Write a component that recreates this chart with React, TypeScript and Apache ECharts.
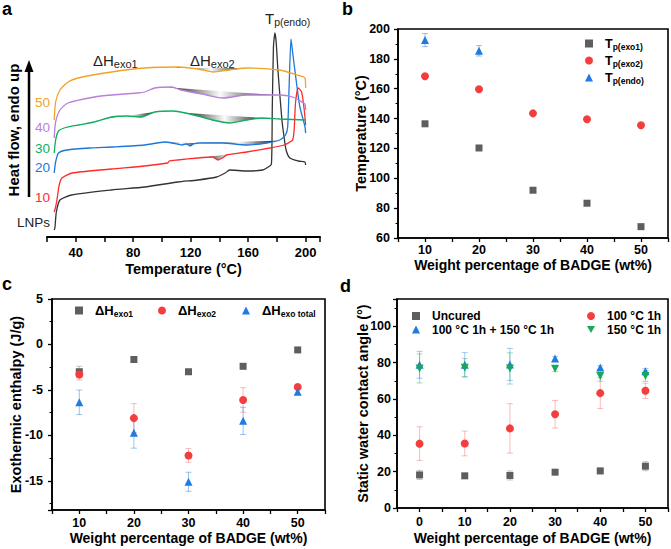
import React, { useEffect, useRef } from "react";
import * as echarts from "echarts";

const FONT = '"Liberation Sans", Arial, Helvetica, sans-serif';

// ---------- panel a: DSC curves [temperature (°C), heat flow (arb. units, endo up)]
const dscLNPs = [[25,7],[25.5,9],[26.5,25],[29,37],[37,42],[65,47],[88,50],[111,55],[125,57],[138,60],[144,64],[147,67],[159,66],[170,67],[174,70],[176.2,73],[176.8,130],[177.6,190],[178.6,204],[179.5,195],[180.7,167],[183.5,117],[185,100],[186.4,87],[189,79],[195,76],[199.5,75],[200,72]];
const dsc10 = [[25,25],[26,30],[27,38],[28.5,52],[30.4,59],[37.4,64],[65,68],[88,71],[104,74],[105,76],[111,77],[125,79],[135,80],[139,77],[142,79],[145,82],[159,85],[175,89],[185,92],[189,95],[191,97],[192,107],[193,135],[194.9,149],[197.2,145],[198.8,130],[200,112]];
const dsc20 = [[25,64],[26,75],[28,84],[34,87],[50,89],[65,90],[88,92],[102,95],[107,94],[114,92],[117,93],[119.5,91],[122,93],[126,94],[142,94],[159,92],[173,94],[182,97],[186,102],[187.5,110],[188.5,150],[189.8,198],[191,184],[194,150],[196,130],[199.6,110],[200,104]];
const dsc30 = [[25,84],[26,97],[28,106],[32,109],[42,112],[53,115],[65,120],[76,121],[86,120],[90,122],[95,125],[107,126],[113,125],[125,121],[135,117],[147,114],[159,117],[170,119],[182,118],[200,117]];
const dsc40 = [[25,99],[26,115],[29,127],[34.6,134],[53,140],[65,142],[83,144],[88,145],[95,149],[107,150],[113,147],[131,142],[142.5,139],[159,142],[182,142],[191,140],[197.5,135],[199.5,133],[200,127]];
const dsc50 = [[25,117],[26,135],[29,147],[34.6,155],[41.6,159],[65,165],[88,169],[111,170],[125,168],[135.5,165],[147,167],[159,169],[182,167],[194,162],[199.5,159],[200,149]];
const dscNames = ["LNPs", "10", "20", "30", "40", "50"];
const dscCurves = [dscLNPs, dsc10, dsc20, dsc30, dsc40, dsc50];
const dscColors = ["#333333", "#ff2b2b", "#1c78d6", "#10ad5c", "#b97fdc", "#f0a425"];
// exothermic regions: [curve index, from °C, to °C]
const exoRegions = [[5,64,72],[5,110,158],[4,62,88],[4,103,178],[3,62,95],[3,115,172],[2,102,125],[2,126,180],[1,128,165]];

// ---------- panel b
const pctB = [10, 20, 30, 40, 50];
const tpExo1 = [136.5, 120.3, 92, 83.3, 67.6];
const tpExo1Err = [1.2, 0.8, 0.5, 0.5, 0.5];
const tpExo2 = [168.3, 159.6, 143.5, 139.5, 135.5];
const tpExo2Err = [0.6, 0.5, 0.5, 0.5, 0.5];
const pctEndo = [10, 20];
const tpEndo = [192.6, 185.4];
const tpEndoErr = [4.4, 3.5];

// ---------- panel c
const pctC = [10, 20, 30, 40, 50];
const dhExo1 = [-3.0, -1.65, -3.0, -2.4, -0.6];
const dhExo1Err = [0.6, 0.2, 0.2, 0.2, 0.2];
const dhExo2 = [-3.3, -8.1, -12.2, -6.1, -4.67];
const dhExo2Err = [0.6, 1.6, 0.75, 1.35, 0.2];
const dhTotal = [-6.36, -9.7, -15.1, -8.4, -5.2];
const dhTotalErr = [1.35, 1.7, 1.05, 1.5, 0.3];

// ---------- panel d
const pctD = [0, 10, 20, 30, 40, 50];
const caUncured = [18.2, 17.7, 17.9, 19.7, 20.4, 23.0];
const caUncuredErr = [2.5, 1, 2.5, 1, 1.5, 2.5];
const ca100 = [35.4, 35.5, 43.8, 51.6, 63.2, 64.5];
const ca100Err = [9.3, 6.8, 13.6, 7.6, 8.5, 4.2];
const ca100150 = [78.8, 78.8, 79.0, 82.3, 77.3, 75.3];
const ca100150Err = [7.4, 6.7, 8.8, 1, 1, 1.5];
const ca150 = [76.8, 77.2, 76.8, 76.6, 72.7, 72.7];
const ca150Err = [8, 5, 8.6, 1.5, 3, 3];

const GRAY = "#5e5e5e";
const RED = "#f43e3e";
const BLUE = "#1f7be2";
const GREEN = "#17a85c";
const DOWN_TRI = "path://M0,0 L10,0 L5,9 Z";

function interp(c: number[][], t: number) {
  for (let i = 0; i < c.length - 1; i++) {
    if (c[i][0] <= t && c[i + 1][0] >= t) {
      const f = (t - c[i][0]) / (c[i + 1][0] - c[i][0] || 1);
      return c[i][1] + f * (c[i + 1][1] - c[i][1]);
    }
  }
  return c[c.length - 1][1];
}

function scatter(name: string, xs: number[], ys: number[], color: string, symbol: string, idx: number, size = 7) {
  return {
    type: "scatter", name, xAxisIndex: idx, yAxisIndex: idx, z: 4,
    symbol, symbolSize: size, itemStyle: { color, opacity: 1 },
    data: xs.map((x, i) => [x, ys[i]]),
  };
}

function errBars(name: string, xs: number[], ys: number[], es: number[], color: string, idx: number) {
  return {
    type: "custom", name, xAxisIndex: idx, yAxisIndex: idx, z: 2,
    encode: { x: 0, y: 1 },
    data: xs.map((x, i) => [x, ys[i], es[i]]),
    renderItem: (_p: any, api: any) => {
      const x = api.value(0), y = api.value(1), e = api.value(2);
      const t = api.coord([x, y + e]);
      const b = api.coord([x, y - e]);
      const hw = 3;
      const st = { stroke: color, lineWidth: 1 };
      return {
        type: "group",
        children: [
          { type: "line", shape: { x1: t[0], y1: t[1], x2: b[0], y2: b[1] }, style: st },
          { type: "line", shape: { x1: t[0] - hw, y1: t[1], x2: t[0] + hw, y2: t[1] }, style: st },
          { type: "line", shape: { x1: b[0] - hw, y1: b[1], x2: b[0] + hw, y2: b[1] }, style: st },
        ],
      };
    },
  };
}

const tickLbl = (size: number) => ({ color: "#000", fontWeight: "bold", fontFamily: FONT, fontSize: size });
const nameStyle = { color: "#000", fontWeight: "bold", fontFamily: FONT, fontSize: 14 };
const axLine = { show: true, onZero: false, lineStyle: { color: "#000", width: 1.6 } };
const axTick = { show: true, inside: false, length: 4, lineStyle: { color: "#000", width: 1.3 } };
const minor = { show: true, splitNumber: 2, length: 2.5, lineStyle: { color: "#000", width: 1 } };
const PAD = 7;

function subRich(main: number, sub: number, lh: number) {
  return {
    m: { fontSize: main, fontWeight: "bold", fontFamily: FONT, color: "#000", lineHeight: lh, padding: [0, 0, 0, PAD] },
    s: { fontSize: sub, fontWeight: "bold", fontFamily: FONT, color: "#000", lineHeight: sub, verticalAlign: "bottom" },
  };
}
const plainRich = {
  t: { fontSize: 12, fontWeight: "bold", fontFamily: FONT, color: "#000", lineHeight: 13, padding: [0, 0, 0, PAD] },
};

export default function App() {
  const ref = useRef<HTMLDivElement>(null);
  useEffect(() => {
    if (!ref.current) return;
    const chart = echarts.init(ref.current, null, { renderer: "svg" });

    const shadeGrad = () =>
      new echarts.graphic.LinearGradient(0, 0, 1, 0, [
        { offset: 0, color: "#111" },
        { offset: 0.5, color: "#fbfbfb" },
        { offset: 1, color: "#111" },
      ]);

    const letter = (t: string, left: number, top: number) => ({
      text: t, left, top, padding: 0, z: 20,
      textStyle: { fontSize: 18, fontWeight: "bold", fontFamily: FONT, color: "#000" },
    });

    const axName = (gap: number) => ({ nameLocation: "middle", nameGap: gap, nameMoveOverlap: false, nameTextStyle: nameStyle });

    const option: any = {
      animation: false,
      backgroundColor: "#fff",
      textStyle: { fontFamily: FONT },
      title: [letter("a", 2, 0), letter("b", 342, 0), letter("c", 2, 275), letter("d", 340, 277)],
      grid: [
        { left: 47, top: 20, width: 273, height: 217 },
        { left: 398, top: 29, width: 272, height: 209, show: true, borderColor: "#000", borderWidth: 1.6 },
        { left: 52, top: 299, width: 273, height: 211, show: true, borderColor: "#000", borderWidth: 1.6 },
        { left: 397, top: 299, width: 273, height: 209, show: true, borderColor: "#000", borderWidth: 1.6 },
      ],
      xAxis: [
        {
          type: "value", gridIndex: 0, min: 20, max: 210, interval: 20,
          axisLine: { show: true, lineStyle: { color: "#000", width: 2 } },
          axisTick: { show: true, length: 5, lineStyle: { color: "#000", width: 1.5 } },
          axisLabel: { ...tickLbl(13), margin: 9, formatter: (v: number) => (v % 40 === 0 && v <= 200 ? String(v) : "") },
          splitLine: { show: false },
          name: "Temperature (°C)", ...axName(24.5), nameTextStyle: { ...nameStyle, fontSize: 14.5 },
        },
        {
          type: "value", gridIndex: 1, min: 5, max: 55, interval: 5,
          axisLine: axLine, axisTick: axTick, splitLine: { show: false },
          axisLabel: { ...tickLbl(12.5), margin: 5, formatter: (v: number) => (v % 10 === 0 ? String(v) : "") },
          name: "Weight percentage of BADGE (wt%)", ...axName(20),
        },
        {
          type: "value", gridIndex: 2, min: 5, max: 55, interval: 5,
          axisLine: axLine, axisTick: axTick, splitLine: { show: false },
          axisLabel: { ...tickLbl(12.5), margin: 6, formatter: (v: number) => (v % 10 === 0 ? String(v) : "") },
          name: "Weight percentage of BADGE (wt%)", ...axName(21),
        },
        {
          type: "value", gridIndex: 3, min: -5, max: 55, interval: 5,
          axisLine: axLine, axisTick: axTick, splitLine: { show: false },
          axisLabel: { ...tickLbl(12.5), margin: 7, formatter: (v: number) => (v % 10 === 0 ? String(v) : "") },
          name: "Weight percentage of BADGE (wt%)", ...axName(22.5),
        },
      ],
      yAxis: [
        { type: "value", gridIndex: 0, min: 0, max: 217, show: false },
        {
          type: "value", gridIndex: 1, min: 60, max: 200, interval: 20,
          axisLine: axLine, axisTick: axTick, minorTick: minor, splitLine: { show: false },
          axisLabel: { ...tickLbl(12.5), margin: 8 },
          name: "Temperature (°C)", ...axName(30), nameTextStyle: { ...nameStyle, fontSize: 14.5 },
        },
        {
          type: "value", gridIndex: 2, min: -18.2, max: 5, minInterval: 5, maxInterval: 5,
          axisLine: axLine, axisTick: axTick, minorTick: minor, splitLine: { show: false },
          axisLabel: { ...tickLbl(12.5), margin: 9, showMinLabel: false },
          name: "Exothermic enthalpy (J/g)", ...axName(29), nameTextStyle: { ...nameStyle, fontSize: 14.5 },
        },
        {
          type: "value", gridIndex: 3, min: 0, max: 115, interval: 20,
          axisLine: axLine, axisTick: axTick, minorTick: minor, splitLine: { show: false },
          axisLabel: { ...tickLbl(12.5), margin: 6, showMaxLabel: false },
          name: "Static water contact angle (°)", ...axName(27), nameTextStyle: { ...nameStyle, fontSize: 14.5 },
        },
      ],
      legend: [
        {
          data: ["Tp(exo1)", "Tp(exo2)", "Tp(endo)"], orient: "vertical", left: 585, top: 37, padding: 0,
          itemWidth: 8, itemHeight: 8, itemGap: 3,
          formatter: (n: string) => `{m|T}{s|${n.slice(1)}}`,
          textStyle: { rich: subRich(12.5, 8.5, 15) },
        },
        {
          data: ["ΔHexo1"], left: 75, top: 304, itemWidth: 8, itemHeight: 8, padding: 0,
          formatter: () => "{m|ΔH}{s|exo1}", textStyle: { rich: subRich(13, 8.5, 16) },
        },
        {
          data: ["ΔHexo2"], left: 158, top: 304, itemWidth: 8, itemHeight: 8, padding: 0,
          formatter: () => "{m|ΔH}{s|exo2}", textStyle: { rich: subRich(13, 8.5, 16) },
        },
        {
          data: ["ΔHexo total"], left: 242, top: 304, itemWidth: 8, itemHeight: 8, padding: 0,
          formatter: () => "{m|ΔH}{s|exo total}", textStyle: { rich: subRich(13, 8.5, 16) },
        },
        {
          data: ["Uncured", "100 °C 1h + 150 °C 1h"], orient: "vertical", left: 412, top: 310, padding: 0,
          itemWidth: 8, itemHeight: 8, itemGap: 1.5,
          formatter: (n: string) => `{t|${n}}`, textStyle: { rich: plainRich },
        },
        {
          data: ["100 °C 1h", "150 °C 1h"], orient: "vertical", left: 587, top: 310, padding: 0,
          itemWidth: 8, itemHeight: 8, itemGap: 1.5,
          formatter: (n: string) => `{t|${n}}`, textStyle: { rich: plainRich },
        },
      ],
      series: [
        // panel a shaded exothermic regions
        {
          type: "custom", name: "exo regions", xAxisIndex: 0, yAxisIndex: 0, z: 1,
          dimensions: ["curve", "from", "to"], encode: { x: [1, 2], y: 0 },
          data: exoRegions,
          renderItem: (_p: any, api: any) => {
            const c = dscCurves[api.value(0)];
            const from = api.value(1), to = api.value(2);
            const pts: number[][] = [api.coord([from, interp(c, from)])];
            c.forEach((p) => { if (p[0] > from && p[0] < to) pts.push(api.coord(p)); });
            pts.push(api.coord([to, interp(c, to)]));
            return { type: "polygon", shape: { points: pts }, style: { fill: shadeGrad(), stroke: "none" } };
          },
        },
        ...dscCurves.map((c, i) => ({
          type: "line", name: dscNames[i], xAxisIndex: 0, yAxisIndex: 0, z: 3,
          data: c, showSymbol: false, symbol: "none", smooth: 0.2,
          lineStyle: { color: dscColors[i], width: 1.3 },
        })),
        // panel b
        errBars("e1", pctB, tpExo1, tpExo1Err, "rgba(94,94,94,0.35)", 1),
        errBars("e2", pctB, tpExo2, tpExo2Err, "rgba(244,62,62,0.35)", 1),
        errBars("e3", pctEndo, tpEndo, tpEndoErr, "rgba(31,123,226,0.45)", 1),
        scatter("Tp(exo1)", pctB, tpExo1, GRAY, "rect", 1, 7),
        scatter("Tp(exo2)", pctB, tpExo2, RED, "circle", 1, 8),
        scatter("Tp(endo)", pctEndo, tpEndo, BLUE, "triangle", 1, 8),
        // panel c
        errBars("c1", pctC, dhExo1, dhExo1Err, "rgba(94,94,94,0.35)", 2),
        errBars("c2", pctC, dhExo2, dhExo2Err, "rgba(244,62,62,0.35)", 2),
        errBars("c3", pctC, dhTotal, dhTotalErr, "rgba(31,123,226,0.45)", 2),
        scatter("ΔHexo1", pctC, dhExo1, GRAY, "rect", 2, 7),
        scatter("ΔHexo2", pctC, dhExo2, RED, "circle", 2, 8),
        scatter("ΔHexo total", pctC, dhTotal, BLUE, "triangle", 2, 8),
        // panel d
        errBars("d1", pctD, caUncured, caUncuredErr, "rgba(94,94,94,0.35)", 3),
        errBars("d2", pctD, ca100, ca100Err, "rgba(244,62,62,0.35)", 3),
        errBars("d3", pctD, ca100150, ca100150Err, "rgba(31,123,226,0.4)", 3),
        errBars("d4", pctD, ca150, ca150Err, "rgba(23,168,92,0.4)", 3),
        scatter("Uncured", pctD, caUncured, GRAY, "rect", 3, 7),
        scatter("100 °C 1h", pctD, ca100, RED, "circle", 3, 8),
        scatter("100 °C 1h + 150 °C 1h", pctD, ca100150, BLUE, "triangle", 3, 8),
        scatter("150 °C 1h", pctD, ca150, GREEN, DOWN_TRI, 3, 8),
      ],
      graphic: [
        // heat-flow arrow + label
        { type: "line", shape: { x1: 29, y1: 197, x2: 29, y2: 70 }, style: { stroke: "#000", lineWidth: 2.5 } },
        { type: "polygon", shape: { points: [[29, 60], [24.5, 72], [33.5, 72]] }, style: { fill: "#000" } },
        {
          type: "text", x: 13, y: 130, rotation: Math.PI / 2,
          style: { text: "Heat flow, endo up", fontSize: 15, fontWeight: "bold", fontFamily: FONT, fill: "#000", align: "center", verticalAlign: "middle" },
        },
        ...dscNames.map((n, i) => ({
          type: "text", x: 50, y: [222, 197, 167, 148, 127, 102][i],
          style: { text: n, fontSize: 13.5, fontFamily: FONT, fill: i === 0 ? "#222" : dscColors[i], align: "right", verticalAlign: "middle" },
        })),
        {
          type: "text", x: 93, y: 60,
          style: { text: "{m|ΔH}{s|exo1}", verticalAlign: "middle", rich: { m: { fontSize: 15, fontFamily: FONT, fill: "#222", lineHeight: 18 }, s: { fontSize: 11, fontFamily: FONT, fill: "#222", lineHeight: 11, verticalAlign: "bottom" } } },
        },
        {
          type: "text", x: 190, y: 60,
          style: { text: "{m|ΔH}{s|exo2}", verticalAlign: "middle", rich: { m: { fontSize: 15, fontFamily: FONT, fill: "#222", lineHeight: 18 }, s: { fontSize: 11, fontFamily: FONT, fill: "#222", lineHeight: 11, verticalAlign: "bottom" } } },
        },
        {
          type: "text", x: 265, y: 18,
          style: { text: "{m|T}{s|p(endo)}", verticalAlign: "middle", rich: { m: { fontSize: 15, fontFamily: FONT, fill: "#222", lineHeight: 18 }, s: { fontSize: 10.5, fontFamily: FONT, fill: "#222", lineHeight: 11, verticalAlign: "bottom" } } },
        },
      ],
    };
    chart.setOption(option);
    return () => chart.dispose();
  }, []);
  return <div ref={ref} style={{ position: "absolute", left: 0, top: 0, width: 671, height: 549 }} />;
}
